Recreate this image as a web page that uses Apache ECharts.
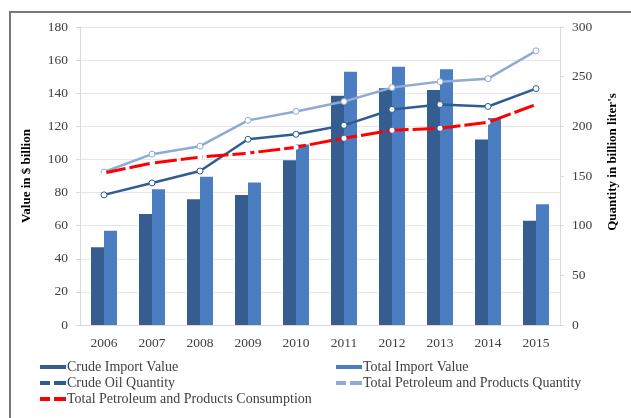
<!DOCTYPE html>
<html><head><meta charset="utf-8">
<script src="https://cdn.jsdelivr.net/npm/echarts@6/dist/echarts.min.js"></script>
<style>html,body{margin:0;padding:0;background:#fff}#c{width:631px;height:418px}</style>
</head><body><div id="c"></div>
<script>
const years = ['2006','2007','2008','2009','2010','2011','2012','2013','2014','2015'];
const crudeImportValue = [47, 67, 76, 78.5, 99.5, 138.5, 143, 142, 112, 63];
const totalImportValue = [57, 82, 89.5, 86, 109, 153, 156, 154.5, 125, 73];
const crudeOilQuantity = [131, 143, 155, 187, 192, 201, 217, 222, 220, 238];
const totalPetQuantity = [154, 172, 180, 206, 215, 225, 239, 245, 248, 276];
const totalPetConsumption = [153, 163, 169, 173, 179, 188, 196, 198, 204, 222];
const leftTicks = [0, 180, 20];
const rightTicks = [0, 300, 50];

const F = 'Liberation Serif, Times New Roman, serif';
const C_DARK = '#355d8f', C_LIGHT = '#4a7ec0', C_LDARK = '#2f5c94', C_LLIGHT = '#8faad6', C_RED = '#ff0000';
const chart = echarts.init(document.getElementById('c'), null, {renderer: 'canvas'});
const barIcon = 'path://M0,0H26V4H0Z';
const dashIcon = 'path://M0,0H10V4H0Z M14,0H26V4H14Z';
function lg(name, color, left, top, icon) {
  return {data: [{name: name, itemStyle: {color: color, borderWidth: 0}}], left: left, top: top, icon: icon,
    itemWidth: 26, itemHeight: 4, itemGap: 2,
    textStyle: {fontFamily: F, fontSize: 14, color: '#404040', padding: [0,0,0,-4]}, padding: 0, selectedMode: false};
}
chart.setOption({
  animation: false,
  textStyle: {fontFamily: F},
  graphic: [{type: 'rect', shape: {x: 10, y: 12, width: 640, height: 420}, style: {fill: 'none', stroke: '#777', lineWidth: 2}, silent: true}],
  grid: {left: 80, right: 71, top: 27, bottom: 93},
  legend: [
    lg('Crude Import Value', C_DARK, 40, 360, barIcon),
    lg('Total Import Value', C_LIGHT, 336, 360, barIcon),
    lg('Crude Oil Quantity', C_LDARK, 40, 376, dashIcon),
    lg('Total Petroleum and Products Quantity', C_LLIGHT, 336, 376, dashIcon),
    lg('Total Petroleum and Products Consumption', C_RED, 40, 392, dashIcon)
  ],
  xAxis: {type: 'category', data: years,
    axisLine: {lineStyle: {color: '#d9d9d9'}}, axisTick: {show: false},
    axisLabel: {fontFamily: F, fontSize: 13.5, color: '#404040', margin: 11}},
  yAxis: [
    {type: 'value', min: leftTicks[0], max: leftTicks[1], interval: leftTicks[2],
      name: 'Value in $ billion', nameLocation: 'middle', nameGap: 47, nameRotate: 90,
      nameTextStyle: {fontFamily: F, fontSize: 13, fontWeight: 'bold', color: '#000'},
      axisLine: {show: true, lineStyle: {color: '#d9d9d9'}}, axisTick: {show: true, length: 4, lineStyle: {color: '#d9d9d9'}},
      axisLabel: {fontFamily: F, fontSize: 13.5, color: '#404040', margin: 12},
      splitLine: {lineStyle: {color: '#e6e6e6'}}},
    {type: 'value', min: rightTicks[0], max: rightTicks[1], interval: rightTicks[2], position: 'right',
      name: "Quantity in billion liter's", nameLocation: 'middle', nameGap: 46, nameRotate: 90,
      nameTextStyle: {fontFamily: F, fontSize: 13, fontWeight: 'bold', color: '#000', padding: [0, 0, 0, 28]},
      axisLine: {show: true, lineStyle: {color: '#d9d9d9'}}, axisTick: {show: true, length: 4, lineStyle: {color: '#d9d9d9'}},
      axisLabel: {fontFamily: F, fontSize: 13.5, color: '#404040', margin: 12},
      splitLine: {show: false}}
  ],
  series: [
    {name: 'Crude Import Value', type: 'bar', data: crudeImportValue, barWidth: 13, barGap: '0%', itemStyle: {color: C_DARK}},
    {name: 'Total Import Value', type: 'bar', data: totalImportValue, barWidth: 13, barGap: '0%', itemStyle: {color: C_LIGHT}},
    {name: 'Crude Oil Quantity', type: 'line', yAxisIndex: 1, data: crudeOilQuantity, z: 5,
      lineStyle: {color: C_LDARK, width: 2.5}, itemStyle: {color: '#fff', borderColor: C_LDARK, borderWidth: 1}, color: C_LDARK,
      symbol: 'circle', symbolSize: 6},
    {name: 'Total Petroleum and Products Quantity', type: 'line', yAxisIndex: 1, data: totalPetQuantity, z: 5,
      lineStyle: {color: C_LLIGHT, width: 2.5}, itemStyle: {color: '#fff', borderColor: C_LLIGHT, borderWidth: 1}, color: C_LLIGHT,
      symbol: 'circle', symbolSize: 6},
    {name: 'Total Petroleum and Products Consumption', type: 'line', yAxisIndex: 1, data: totalPetConsumption, z: 6,
      lineStyle: {color: C_RED, width: 3, type: [22, 4]}, itemStyle: {color: '#fff', borderColor: '#fff', borderWidth: 0}, color: C_RED,
      symbol: 'circle', symbolSize: 5}
  ]
});
</script></body></html>
